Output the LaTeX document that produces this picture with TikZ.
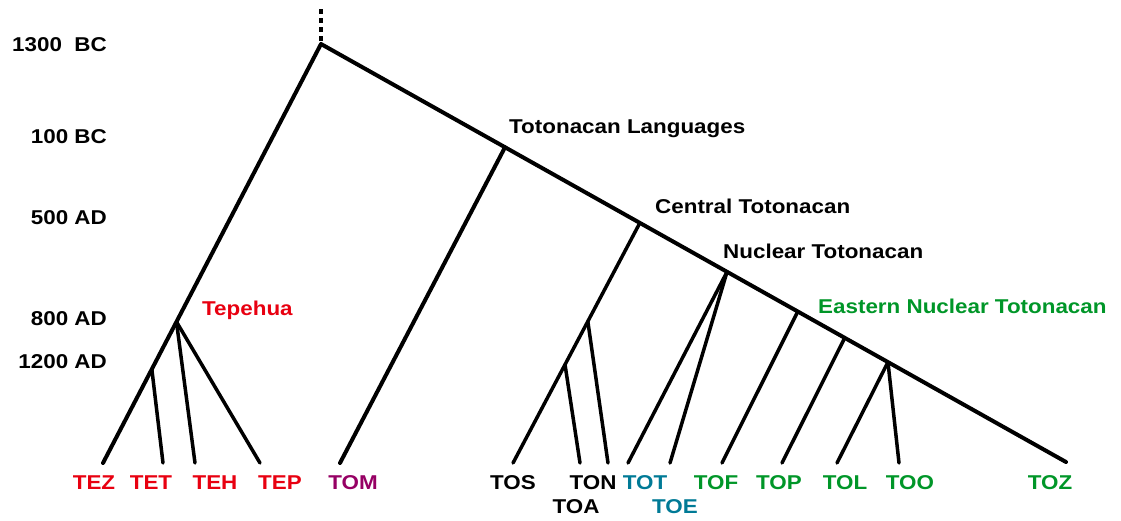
\documentclass[tikz,border=0pt]{standalone}
\usepackage{fontspec}
\setmainfont{Liberation Sans}[FakeStretch=1.12]
\usetikzlibrary{calc}
\definecolor{tred}{RGB}{232,0,16}
\definecolor{tpurple}{RGB}{150,0,100}
\definecolor{tteal}{RGB}{0,122,150}
\definecolor{tgreen}{RGB}{0,150,40}
\begin{document}
\begin{tikzpicture}[x=1pt,y=-1pt,
  txt/.style={inner sep=0pt,font=\fontsize{20}{24}\selectfont\bfseries},
  era/.style={txt,anchor=base east},
  clade/.style={txt,anchor=base west},
  leaf/.style={txt,anchor=base},
  trunk/.style={line width=4pt,line cap=round,line join=round},
  twig/.style={line width=3.5pt,line cap=round}]
\useasboundingbox (0,0) rectangle (1121,520);

% time scale
\node[era] (t1) at (107,51) {1300\ \ BC};
\node[era] (t2) at (107,143) {100 BC};
\node[era] (t3) at (107,224) {500 AD};
\node[era] (t4) at (107,325) {800 AD};
\node[era] (t5) at (107,368) {1200 AD};

% root and the two main lineages
\coordinate (top) at (321,9);
\coordinate (root) at (321,44);
\coordinate (tezend) at (103,463);
\coordinate (tozend) at (1066,462);
\draw[line width=3.2pt,dash pattern=on 5pt off 4pt] (top) -- (root);
\draw[trunk] (tezend) -- (root) -- (tozend);

% Tepehua
\coordinate (jtep) at ($(root)!0.663!(tezend)$);
\coordinate (jtet) at ($(root)!0.776!(tezend)$);
\coordinate (tetend) at (163,463);
\coordinate (tehend) at (195,463);
\coordinate (tepend) at (260,463);
\draw[twig] (jtet) -- (tetend);
\draw[twig] (jtep) -- (tehend);
\draw[twig] (jtep) -- (tepend);

% Totonacan spine junctions
\coordinate (jtl) at ($(root)!0.247!(tozend)$);
\coordinate (jct) at ($(root)!0.428!(tozend)$);
\coordinate (jnu) at ($(root)!0.545!(tozend)$);
\coordinate (je1) at ($(root)!0.640!(tozend)$);
\coordinate (je2) at ($(root)!0.703!(tozend)$);
\coordinate (jen) at ($(root)!0.761!(tozend)$);

\coordinate (tomend) at (340,463);
\draw[trunk] (jtl) -- (tomend);

% Central Totonacan
\coordinate (tosend) at (513,463);
\draw[twig] (jct) -- (tosend);
\coordinate (jc1) at ($(jct)!0.41!(tosend)$);
\coordinate (jc2) at ($(jct)!0.59!(tosend)$);
\coordinate (tonend) at (608,463);
\coordinate (toaend) at (580,463);
\draw[twig] (jc1) -- (tonend);
\draw[twig] (jc2) -- (toaend);

% Nuclear Totonacan
\coordinate (totend) at (628,463);
\coordinate (toeend) at (670,463);
\draw[twig] (jnu) -- (totend);
\draw[twig] (jnu) -- (toeend);

% Eastern Nuclear Totonacan
\coordinate (tofend) at (722,463);
\coordinate (topend) at (782,463);
\coordinate (tolend) at (837,463);
\coordinate (tooend) at (899,463);
\draw[twig] (je1) -- (tofend);
\draw[twig] (je2) -- (topend);
\draw[twig] (jen) -- (tolend);
\draw[twig] (jen) -- (tooend);

% clade names
\node[clade,text=tred] (ntep) at (202,315) {Tepehua};
\node[clade] (ntl) at (509,133) {Totonacan Languages};
\node[clade] (nct) at (655,213) {Central Totonacan};
\node[clade] (nnu) at (723,258) {Nuclear Totonacan};
\node[clade,text=tgreen] (nen) at (818,313) {Eastern Nuclear Totonacan};

% languages
\node[leaf,text=tred] (tez) at (94,489) {TEZ};
\node[leaf,text=tred] (tet) at (151,489) {TET};
\node[leaf,text=tred] (teh) at (215,489) {TEH};
\node[leaf,text=tred] (tep) at (280,489) {TEP};
\node[leaf,text=tpurple] (tom) at (353,489) {TOM};
\node[leaf] (tos) at (513,489) {TOS};
\node[leaf] (ton) at (593,489) {TON};
\node[leaf] (toa) at (576,513) {TOA};
\node[leaf,text=tteal] (tot) at (645,489) {TOT};
\node[leaf,text=tteal] (toe) at (675,513) {TOE};
\node[leaf,text=tgreen] (tof) at (716,489) {TOF};
\node[leaf,text=tgreen] (top) at (779,489) {TOP};
\node[leaf,text=tgreen] (tol) at (845,489) {TOL};
\node[leaf,text=tgreen] (too) at (910,489) {TOO};
\node[leaf,text=tgreen] (toz) at (1050,489) {TOZ};
\end{tikzpicture}
\end{document}
